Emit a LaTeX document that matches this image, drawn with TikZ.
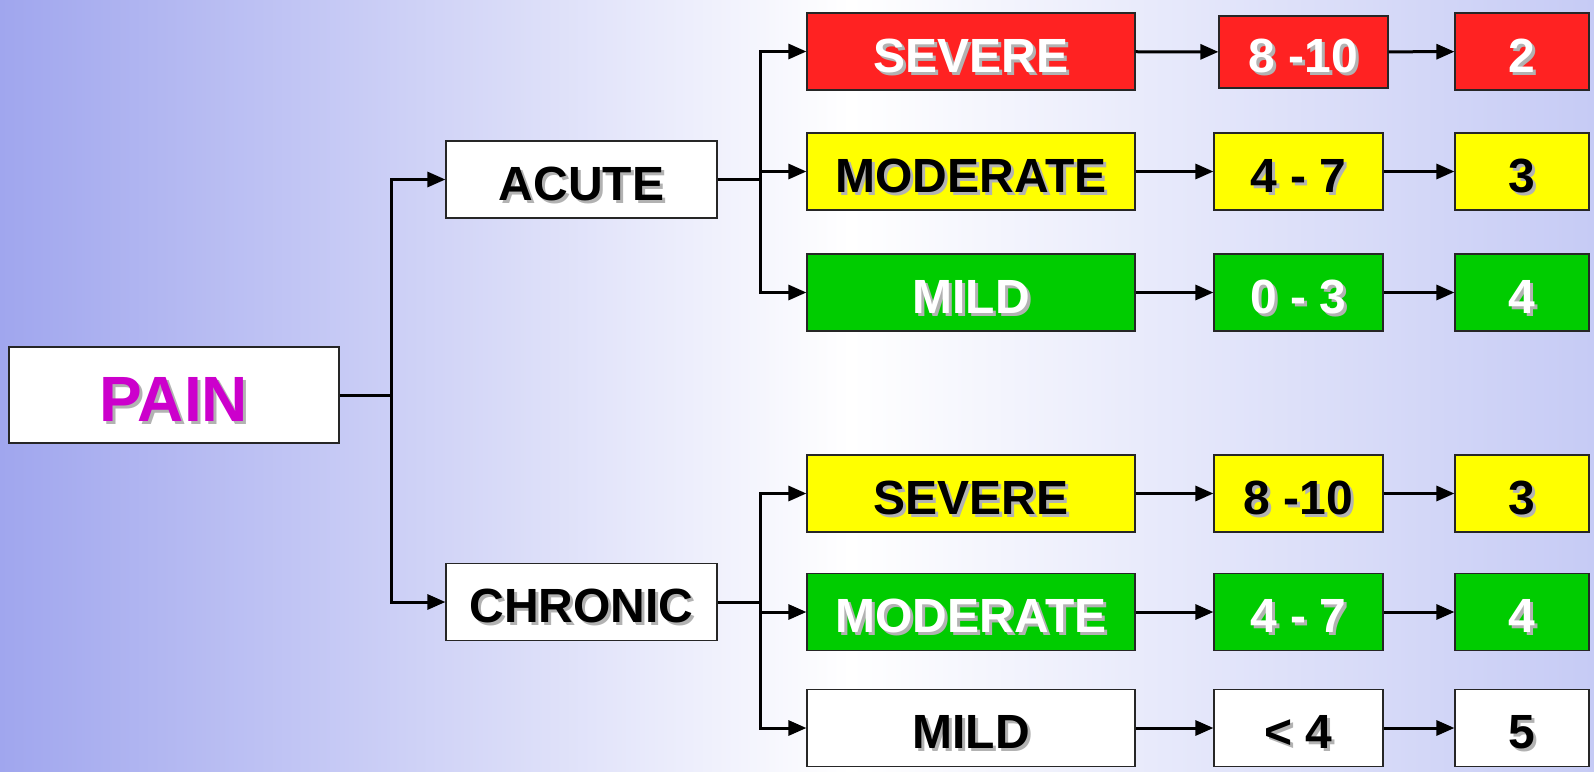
\documentclass[tikz,border=0pt]{standalone}
\usepackage{fontspec}
\setmainfont{Liberation Sans}
\usetikzlibrary{arrows.meta}
\definecolor{bgleft}{RGB}{160,166,238}
\definecolor{bgright}{RGB}{198,203,245}
\definecolor{sevred}{RGB}{255,34,34}
\definecolor{modyellow}{RGB}{255,255,0}
\definecolor{mildgreen}{RGB}{0,204,0}
\definecolor{painpink}{RGB}{204,0,204}
\newcommand\shadowText[1]{\raisebox{-4pt}[\height][0pt]{\makebox[0pt][l]{\hspace{3pt}\raisebox{-3pt}{\color{black!30}#1}}#1}}
\tikzset{>={Triangle[length=18pt,width=15pt]},
  box/.style = {draw=black!85,line width=1.2pt,inner sep=0pt,minimum height=77pt,
    font=\fontsize{48}{52}\selectfont\bfseries},
  lvl1/.style = {box,minimum width=271pt},
  lvl2/.style = {box,minimum width=328pt},
  lvl3/.style = {box,minimum width=169pt},
  lvl4/.style = {box,minimum width=134pt},
  sevbox/.style = {fill=sevred,text=white},
  modbox/.style = {fill=modyellow,text=black},
  mildbox/.style = {fill=mildgreen,text=white},
  plainbox/.style = {fill=white,text=black},
  link/.style = {line width=3pt}
}

\begin{document}
\begin{tikzpicture}[x=1pt,y=-1pt]
  \shade[left color=bgleft,right color=white] (0,0) rectangle (850,771);
  \shade[left color=white,right color=bgright] (850,0) rectangle (1594,771);

  % root and the two kinds
  \node[box,plainbox,text=painpink,minimum width=330pt,minimum height=96pt,
    font=\fontsize{64}{68}\selectfont\bfseries] (pain) at (174,395) {\shadowText{PAIN}};
  \node[lvl1,plainbox] (acute) at (581.5,179.5) {\shadowText{ACUTE}};
  \node[lvl1,plainbox] (chronic) at (581.5,602) {\shadowText{CHRONIC}};

  % acute
  \node[lvl2,sevbox] (aSevere) at (971,51.5) {\shadowText{SEVERE}};
  \node[lvl2,modbox] (aModerate) at (971,171.5) {\shadowText{MODERATE}};
  \node[lvl2,mildbox] (aMild) at (971,292.5) {\shadowText{MILD}};
  \node[lvl3,sevbox,minimum height=72pt] (aSevere-s) at (1303.5,52) {\shadowText{8 -10}};
  \node[lvl3,modbox] (aModerate-s) at (1298.5,171.5) {\shadowText{4 - 7}};
  \node[lvl3,mildbox] (aMild-s) at (1298.5,292.5) {\shadowText{0 - 3}};
  \node[lvl4,sevbox] (aSevere-l) at (1522,51.5) {\shadowText{2}};
  \node[lvl4,modbox] (aModerate-l) at (1522,171.5) {\shadowText{3}};
  \node[lvl4,mildbox] (aMild-l) at (1522,292.5) {\shadowText{4}};

  % chronic
  \node[lvl2,modbox] (cSevere) at (971,493.5) {\shadowText{SEVERE}};
  \node[lvl2,mildbox] (cModerate) at (971,612) {\shadowText{MODERATE}};
  \node[lvl2,plainbox] (cMild) at (971,728) {\shadowText{MILD}};
  \node[lvl3,modbox] (cSevere-s) at (1298.5,493.5) {\shadowText{8 -10}};
  \node[lvl3,mildbox] (cModerate-s) at (1298.5,612) {\shadowText{4 - 7}};
  \node[lvl3,plainbox] (cMild-s) at (1298.5,728) {\shadowText{< 4}};
  \node[lvl4,modbox] (cSevere-l) at (1522,493.5) {\shadowText{3}};
  \node[lvl4,mildbox] (cModerate-l) at (1522,612) {\shadowText{4}};
  \node[lvl4,plainbox] (cMild-l) at (1522,728) {\shadowText{5}};

  \coordinate (painJoint) at (391,395);
  \coordinate (acuteJoint) at (760,179.5);
  \coordinate (chronicJoint) at (760,602);

  \draw[link] (pain) -- (painJoint);
  \draw[link,->] (painJoint) |- (acute);
  \draw[link,->] (painJoint) |- (chronic);
  \draw[link] (acute) -- (acuteJoint);
  \draw[link] (chronic) -- (chronicJoint);
  \foreach \n in {aSevere,aModerate,aMild}
    \draw[link,->] (acuteJoint) |- (\n);
  \foreach \n in {cSevere,cModerate,cMild}
    \draw[link,->] (chronicJoint) |- (\n);
  \foreach \n in {aSevere,aModerate,aMild,cSevere,cModerate,cMild}{
    \draw[link,->] (\n) -- (\n-s);
    \draw[link,->] (\n-s) -- (\n-l);
  }
\end{tikzpicture}
\end{document}
